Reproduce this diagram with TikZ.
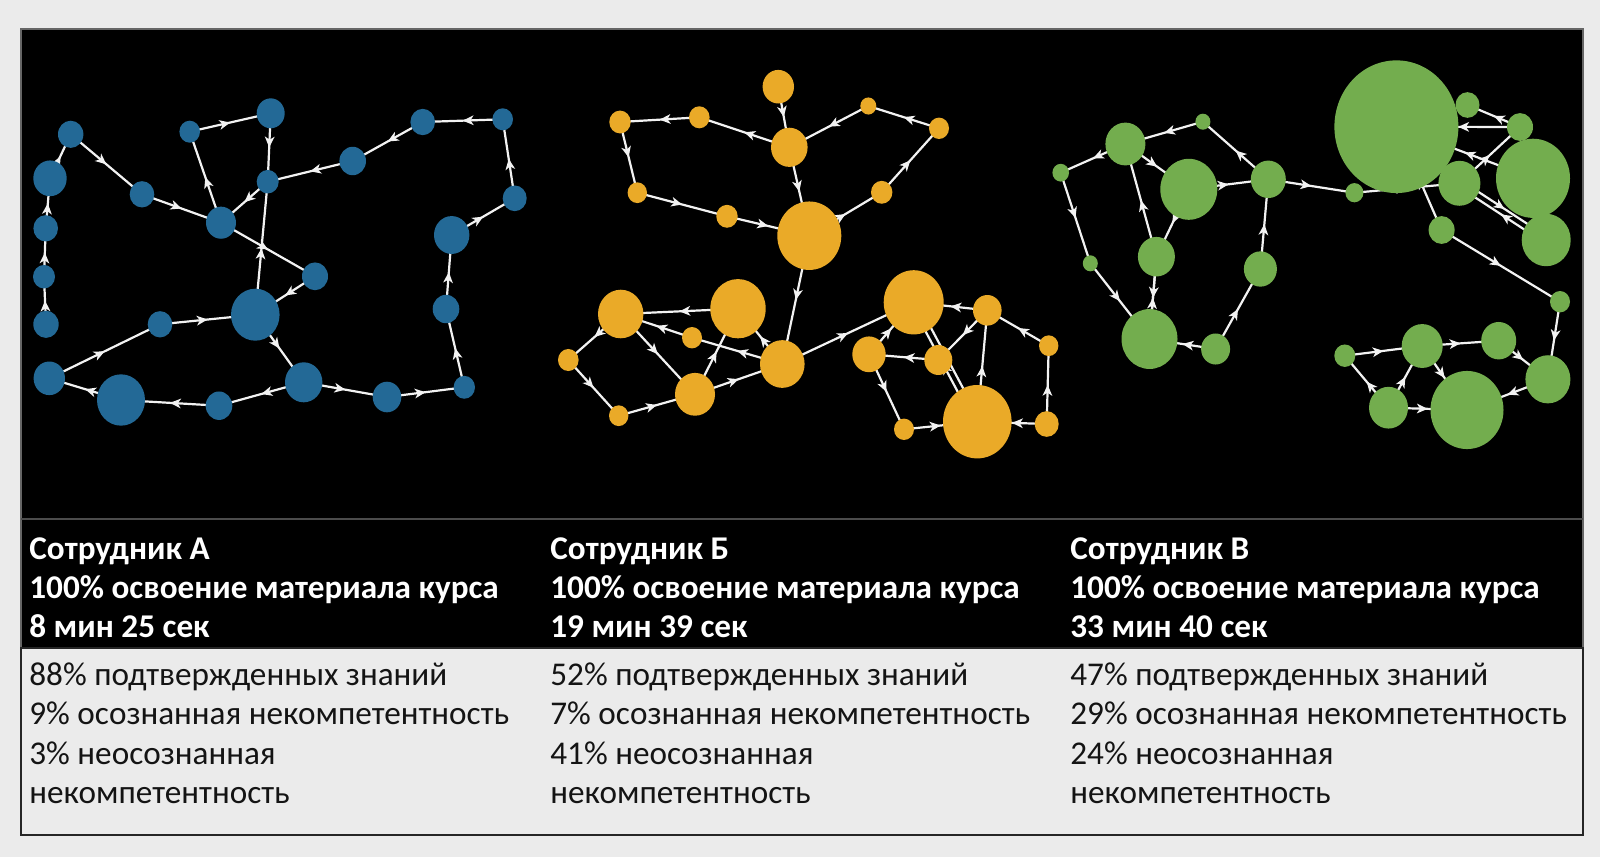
\documentclass[tikz,border=0pt]{standalone}
\usepackage{fontspec}
\setmainfont{Carlito}
\usetikzlibrary{arrows.meta,decorations.markings,shapes.geometric,calc}
\definecolor{cA}{RGB}{35,105,150}
\definecolor{cB}{RGB}{234,170,40}
\definecolor{cC}{RGB}{115,173,78}
\definecolor{pagebg}{RGB}{235,235,235}
\definecolor{lnkcol}{RGB}{242,242,242}
\pgfdeclarelayer{panel}
\pgfdeclarelayer{edgelayer}
\pgfsetlayers{panel,edgelayer,main}
\tikzset{
 nA/.style={ellipse, inner sep=0pt, draw=none, fill=cA, minimum width=#1pt, minimum height={1.07*#1pt}},
 nB/.style={ellipse, inner sep=0pt, draw=none, fill=cB, minimum width=#1pt, minimum height={1.07*#1pt}},
 nC/.style={ellipse, inner sep=0pt, draw=none, fill=cC, minimum width=#1pt, minimum height={1.07*#1pt}},
 lnk/.style={color=lnkcol, line width=1.1pt, postaction={decorate},
   decoration={markings, mark=at position 0.5 with {\arrow{Stealth[length=5.4pt,width=4.8pt,inset=1.5pt]}}}},
 hdr/.style={anchor=base west, inner sep=0pt, text=white, font=\fontsize{16.6}{20}\selectfont\bfseries},
 txt/.style={anchor=base west, inner sep=0pt, text=black!92, font=\fontsize{16.6}{20}\selectfont},
}
\newcommand\edg[2]{\draw[lnk] (#1.center) -- (#2.center);}
\newcommand\dedg[2]{%
 \draw[lnk] ($(#1)!1.6pt!90:(#2)$) -- ($(#2)!1.6pt!-90:(#1)$);
 \draw[lnk] ($(#2)!1.6pt!90:(#1)$) -- ($(#1)!1.6pt!-90:(#2)$);}
\begin{document}
\begin{tikzpicture}[x=0.5pt,y=-0.5pt]
\useasboundingbox (0,0) rectangle (1600,857);
\begin{pgfonlayer}{panel}
\fill[pagebg] (0,0) rectangle (1600,857);
\draw[fill=black, draw=black!60, line width=0.8pt] (21,29) rectangle (1583,648);
\draw[fill=pagebg, draw=black!85, line width=0.6pt] (21,648) rectangle (1583,835);
\draw[draw=black!70!white, line width=0.6pt] (21,519) -- (1583,519);
\end{pgfonlayer}

% ---------- Employee A (blue) ----------
\node[nA=12.7] (a1) at (70.7,134.3) {};
\node[nA=16.7] (a2) at (50,178.3) {};
\node[nA=12.3] (a3) at (45.7,228.3) {};
\node[nA=11] (a4) at (44,276.7) {};
\node[nA=12.7] (a5) at (46,324.3) {};
\node[nA=15.7] (a6) at (49.3,378.3) {};
\node[nA=24] (a7) at (121,400) {};
\node[nA=13.3] (a8) at (219,405.7) {};
\node[nA=18.7] (a9) at (303.7,382.3) {};
\node[nA=14.3] (a10) at (387,397) {};
\node[nA=10.7] (a11) at (464.3,387.3) {};
\node[nA=13.3] (a12) at (446,309) {};
\node[nA=17.7] (a13) at (451.7,235) {};
\node[nA=12] (a14) at (514.7,198.3) {};
\node[nA=10.3] (a15) at (502.7,119.3) {};
\node[nA=12.3] (a16) at (422.7,122) {};
\node[nA=13.3] (a17) at (352.7,161) {};
\node[nA=11] (a18) at (267.7,181.7) {};
\node[nA=14] (a19) at (270.7,113.3) {};
\node[nA=10.3] (a20) at (189.7,131.7) {};
\node[nA=12.3] (a21) at (142,194.3) {};
\node[nA=15] (a22) at (221,222.7) {};
\node[nA=13] (a23) at (315,276.3) {};
\node[nA=24.3] (a24) at (255.3,314.7) {};
\node[nA=12.3] (a25) at (160,324.3) {};

% ---------- Employee B (orange) ----------
\node[nB=15.7] (b1) at (778.3,86.7) {};
\node[nB=18.3] (b2) at (789.3,147.3) {};
\node[nB=10.3] (b3) at (699.3,117.3) {};
\node[nB=10.7] (b4) at (620,122) {};
\node[nB=9.7] (b5) at (637.3,192.7) {};
\node[nB=10.7] (b6) at (727,216.3) {};
\node[nB=32] (b7) at (809.3,235.7) {};
\node[nB=10.7] (b8) at (881.7,192.3) {};
\node[nB=10] (b9) at (939,128.3) {};
\node[nB=8] (b10) at (868.3,106) {};
\node[nB=27.7] (b11) at (738,308.7) {};
\node[nB=22.7] (b12) at (620.7,314) {};
\node[nB=10] (b13) at (692,337.7) {};
\node[nB=10.3] (b14) at (568.3,360) {};
\node[nB=9.7] (b15) at (618.7,415.7) {};
\node[nB=20] (b16) at (695,394.3) {};
\node[nB=22.3] (b17) at (782.3,364) {};
\node[nB=30] (b18) at (913.7,302.3) {};
\node[nB=14.3] (b19) at (987.3,310.3) {};
\node[nB=9.7] (b20) at (1048.7,345.7) {};
\node[nB=16.7] (b21) at (869,354.3) {};
\node[nB=14] (b22) at (938.3,360) {};
\node[nB=34.3] (b23) at (977.3,421.7) {};
\node[nB=10] (b24) at (904,429.3) {};
\node[nB=12] (b25) at (1046.7,424) {};

% ---------- Employee C (green) ----------
\node[nC=62] (c1) at (1396.4,126.7) {};
\node[nC=12] (c2) at (1467.5,105) {};
\node[nC=13] (c3) at (1520,127) {};
\node[nC=37] (c4) at (1533,178.3) {};
\node[nC=21] (c5) at (1459.4,183.3) {};
\node[nC=24.5] (c6) at (1546.2,240) {};
\node[nC=13] (c7) at (1441.6,230) {};
\node[nC=10] (c8) at (1560,301.7) {};
\node[nC=9] (c9) at (1354.4,192.7) {};
\node[nC=17.5] (c10) at (1268.3,179.3) {};
\node[nC=7.5] (c11) at (1202.9,121.7) {};
\node[nC=20] (c12) at (1125.4,144) {};
\node[nC=8.3] (c13) at (1060.7,172.7) {};
\node[nC=28.5] (c14) at (1188.8,189.3) {};
\node[nC=18.5] (c15) at (1156.4,256.7) {};
\node[nC=7.5] (c16) at (1090.3,263.3) {};
\node[nC=28] (c17) at (1149.5,339) {};
\node[nC=14.5] (c18) at (1215.6,349) {};
\node[nC=16.5] (c19) at (1260.4,269) {};
\node[nC=10.5] (c20) at (1344.8,355.7) {};
\node[nC=20.5] (c21) at (1422.2,346) {};
\node[nC=17.5] (c22) at (1498.7,340.7) {};
\node[nC=22.5] (c23) at (1547.9,379.3) {};
\node[nC=36.5] (c24) at (1467,410) {};
\node[nC=19.5] (c25) at (1388.5,407.7) {};

\begin{pgfonlayer}{edgelayer}
% A
\edg{a5}{a4}\edg{a4}{a3}\edg{a3}{a2}\edg{a2}{a1}\edg{a1}{a21}\edg{a21}{a22}
\edg{a22}{a20}\edg{a20}{a19}\edg{a19}{a18}\edg{a18}{a22}\edg{a17}{a18}
\edg{a16}{a17}\edg{a15}{a16}\edg{a14}{a15}\edg{a13}{a14}\edg{a12}{a13}
\edg{a11}{a12}\edg{a10}{a11}\edg{a9}{a10}\edg{a9}{a8}\edg{a8}{a7}\edg{a7}{a6}
\edg{a6}{a25}\edg{a25}{a24}\edg{a24}{a9}\edg{a23}{a24}\edg{a22}{a23}\edg{a24}{a18}
% B
\edg{b1}{b2}\edg{b2}{b3}\edg{b3}{b4}\edg{b4}{b5}\edg{b5}{b6}\edg{b6}{b7}
\edg{b2}{b7}\edg{b7}{b8}\edg{b8}{b9}\edg{b9}{b10}\edg{b10}{b2}\edg{b7}{b17}
\edg{b17}{b11}\edg{b17}{b13}\edg{b13}{b12}\edg{b11}{b12}\edg{b12}{b14}
\edg{b14}{b15}\edg{b15}{b16}\edg{b16}{b17}\edg{b12}{b16}\edg{b16}{b11}
\edg{b17}{b18}\edg{b19}{b18}\edg{b20}{b19}\edg{b25}{b20}\edg{b25}{b23}
\edg{b23}{b19}\edg{b19}{b22}\edg{b22}{b21}\edg{b21}{b18}\edg{b21}{b24}
\edg{b24}{b23}\dedg{b18}{b23}
% C
\edg{c11}{c12}\edg{c12}{c13}\edg{c13}{c16}\edg{c16}{c17}\edg{c15}{c17}
\edg{c17}{c15}\edg{c15}{c12}\edg{c12}{c14}\edg{c14}{c15}\edg{c14}{c10}
\edg{c10}{c11}\edg{c19}{c10}\edg{c18}{c19}\edg{c18}{c17}\edg{c10}{c9}
\edg{c9}{c5}\edg{c7}{c1}\edg{c3}{c2}\edg{c3}{c1}\edg{c4}{c1}\edg{c5}{c3}
\dedg{c5}{c6}\edg{c7}{c8}\edg{c8}{c23}\edg{c23}{c24}\edg{c22}{c23}
\edg{c21}{c22}\edg{c20}{c21}\edg{c25}{c20}\edg{c25}{c21}\edg{c21}{c24}
\edg{c25}{c24}
\end{pgfonlayer}

% ---------- texts ----------
\node[hdr] (hA1) at (29,559) {Сотрудник А};
\node[hdr] (hA2) at (29,598) {100\% освоение материала курса};
\node[hdr] (hA3) at (29,637) {8 мин 25 сек};
\node[txt] (tA1) at (29,685) {88\% подтвержденных знаний};
\node[txt] (tA2) at (29,724.5) {9\% осознанная некомпетентность};
\node[txt] (tA3) at (29,764) {3\% неосознанная};
\node[txt] (tA4) at (29,803.5) {некомпетентность};

\node[hdr] (hB1) at (550,559) {Сотрудник Б};
\node[hdr] (hB2) at (550,598) {100\% освоение материала курса};
\node[hdr] (hB3) at (550,637) {19 мин 39 сек};
\node[txt] (tB1) at (550,685) {52\% подтвержденных знаний};
\node[txt] (tB2) at (550,724.5) {7\% осознанная некомпетентность};
\node[txt] (tB3) at (550,764) {41\% неосознанная};
\node[txt] (tB4) at (550,803.5) {некомпетентность};

\node[hdr] (hC1) at (1070,559) {Сотрудник В};
\node[hdr] (hC2) at (1070,598) {100\% освоение материала курса};
\node[hdr] (hC3) at (1070,637) {33 мин 40 сек};
\node[txt] (tC1) at (1070,685) {47\% подтвержденных знаний};
\node[txt] (tC2) at (1070,724.5) {29\% осознанная некомпетентность};
\node[txt] (tC3) at (1070,764) {24\% неосознанная};
\node[txt] (tC4) at (1070,803.5) {некомпетентность};
\end{tikzpicture}
\end{document}
